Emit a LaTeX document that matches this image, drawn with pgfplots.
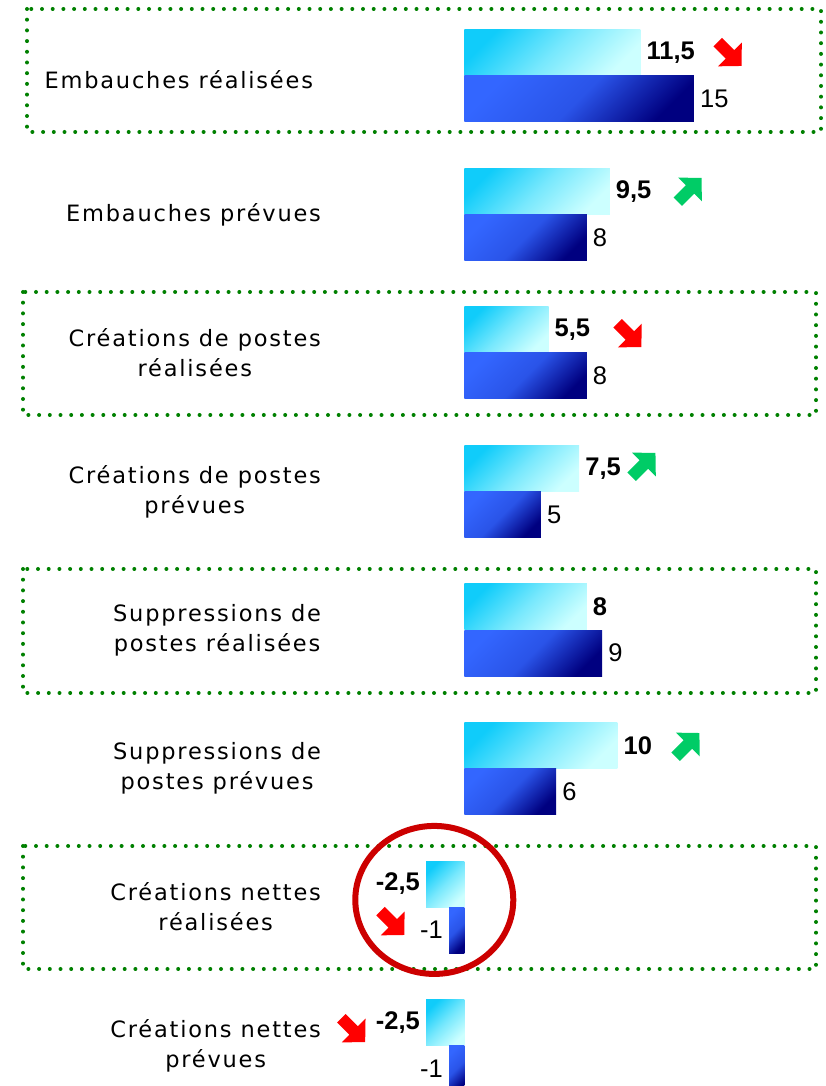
\documentclass[border=0pt]{standalone}
\usepackage{fontspec}
\setmainfont{DejaVu Sans}
\newfontfamily\labfont[LetterSpace=8]{DejaVu Sans}
\newfontfamily\valfont{Liberation Sans}
\usepackage{pgfplots}
\pgfplotsset{compat=1.18}

\definecolor{cyanA}{HTML}{10CCFA}
\definecolor{cyanB}{HTML}{CCFFFF}
\definecolor{blueA}{HTML}{3366FF}
\definecolor{blueB}{HTML}{000080}
\definecolor{dotgreen}{HTML}{008000}
\definecolor{circred}{HTML}{CC0000}
\definecolor{arrred}{HTML}{FF0000}
\definecolor{arrgreen}{HTML}{00CC66}

\tikzset{
  blockarrow/.pic={\fill (-13.8pt,-6pt) -- (3.5pt,-6pt) -- (3.5pt,-16.8pt) -- (19.8pt,0pt) -- (3.5pt,16.8pt) -- (3.5pt,6pt) -- (-13.8pt,6pt) -- cycle;},
  catlab/.style={anchor=east, align=center, inner sep=0pt, font=\labfont\fontsize{22.5pt}{30pt}\selectfont},
  dotbox/.style={dotgreen, line width=4pt, line cap=round, dash pattern=on 0pt off 10.7pt}
}
\pgfplotsset{
  topbar/.style={draw=none, top color=cyanA, bottom color=cyanB, middle color=cyanA!45!cyanB, shading angle=45,
    every node near coord/.append style={font=\valfont\bfseries\fontsize{25.5pt}{30pt}\selectfont, text=black}},
  botbar/.style={draw=none, top color=blueA, bottom color=blueB, middle color=blueA!82!blueB, shading angle=45,
    every node near coord/.append style={font=\valfont\fontsize{25.5pt}{30pt}\selectfont, text=black}},
  pos/.style={every node near coord/.append style={anchor=west, inner sep=6pt}},
  neg/.style={every node near coord/.append style={anchor=east, inner sep=6pt}},
}

\begin{document}
\begin{tikzpicture}
\begin{axis}[
  at={(0,0)}, anchor=south west,
  scale only axis, width=825pt, height=1086pt,
  xmin=-30.327, xmax=23.595,
  ymin=-0.5487, ymax=7.2924,
  y dir=reverse,
  hide axis,
  xbar, bar width=46pt, bar shift=0pt,
  point meta=explicit symbolic,
  nodes near coords,
]
% upper (light) bars
\addplot[topbar,pos] coordinates {(11.5,-0.1661) [11,5]};
\addplot[topbar,pos] coordinates {(9.5,0.8339) [9,5]};
\addplot[topbar,pos] coordinates {(5.5,1.8339) [5,5]};
\addplot[topbar,pos] coordinates {(7.5,2.8339) [7,5]};
\addplot[topbar,pos] coordinates {(8,3.8339) [8]};
\addplot[topbar,pos] coordinates {(10,4.8339) [10]};
\addplot[topbar,neg] coordinates {(-2.5,5.8339) [-2,5]};
\addplot[topbar,neg] coordinates {(-2.5,6.8339) [-2,5]};
% lower (dark) bars
\addplot[botbar,pos] coordinates {(15,0.1661) [15]};
\addplot[botbar,pos] coordinates {(8,1.1661) [8]};
\addplot[botbar,pos] coordinates {(8,2.1661) [8]};
\addplot[botbar,pos] coordinates {(5,3.1661) [5]};
\addplot[botbar,pos] coordinates {(9,4.1661) [9]};
\addplot[botbar,pos] coordinates {(6,5.1661) [6]};
\addplot[botbar,neg] coordinates {(-1,6.1661) [-1]};
\addplot[botbar,neg] coordinates {(-1,7.1661) [-1]};

\node[catlab] at (axis cs:-9.87,0.03) {Embauches réalisées};
\node[catlab] at (axis cs:-9.35,1) {Embauches prévues};
\node[catlab] at (axis cs:-9.35,2) {Créations de postes\\réalisées};
\node[catlab] at (axis cs:-9.35,3) {Créations de postes\\prévues};
\node[catlab] at (axis cs:-9.35,4) {Suppressions de\\postes réalisées};
\node[catlab] at (axis cs:-9.35,5) {Suppressions de\\postes prévues};
\node[catlab] at (axis cs:-9.35,6) {Créations nettes\\réalisées};
\node[catlab] at (axis cs:-9.35,7) {Créations nettes\\prévues};

\coordinate (a1) at (axis cs:17.19,-0.1733);
\coordinate (a2) at (axis cs:14.58,0.8375);
\coordinate (a3) at (axis cs:10.65,1.856);
\coordinate (a4) at (axis cs:11.57,2.823);
\coordinate (a6) at (axis cs:14.44,4.845);
\coordinate (a7) at (axis cs:-4.837,6.101);
\coordinate (a8) at (axis cs:-7.39,6.874);
\coordinate (circ) at (axis cs:-1.961,5.949);
\end{axis}

% dotted frames
\draw[dotbox] (27pt,1077pt) rectangle (821pt,954pt);
\draw[dotbox] (23pt,794pt) rectangle (816pt,671pt);
\draw[dotbox] (23pt,517pt) rectangle (816pt,393pt);
\draw[dotbox] (23pt,240pt) rectangle (816pt,117pt);

% trend arrows
\pic[color=arrred, rotate=-45] at (a1) {blockarrow};
\pic[color=arrgreen, rotate=45] at (a2) {blockarrow};
\pic[color=arrred, rotate=-45] at (a3) {blockarrow};
\pic[color=arrgreen, rotate=45] at (a4) {blockarrow};
\pic[color=arrgreen, rotate=45] at (a6) {blockarrow};
\pic[color=arrred, rotate=-45] at (a7) {blockarrow};
\pic[color=arrred, rotate=-45] at (a8) {blockarrow};

% highlight circle
\draw[circred, line width=6pt] (circ) ellipse [x radius=79pt, y radius=74pt];

\pgfresetboundingbox
\path[use as bounding box] (0,0) rectangle (825pt,1086pt);
\end{tikzpicture}
\end{document}
